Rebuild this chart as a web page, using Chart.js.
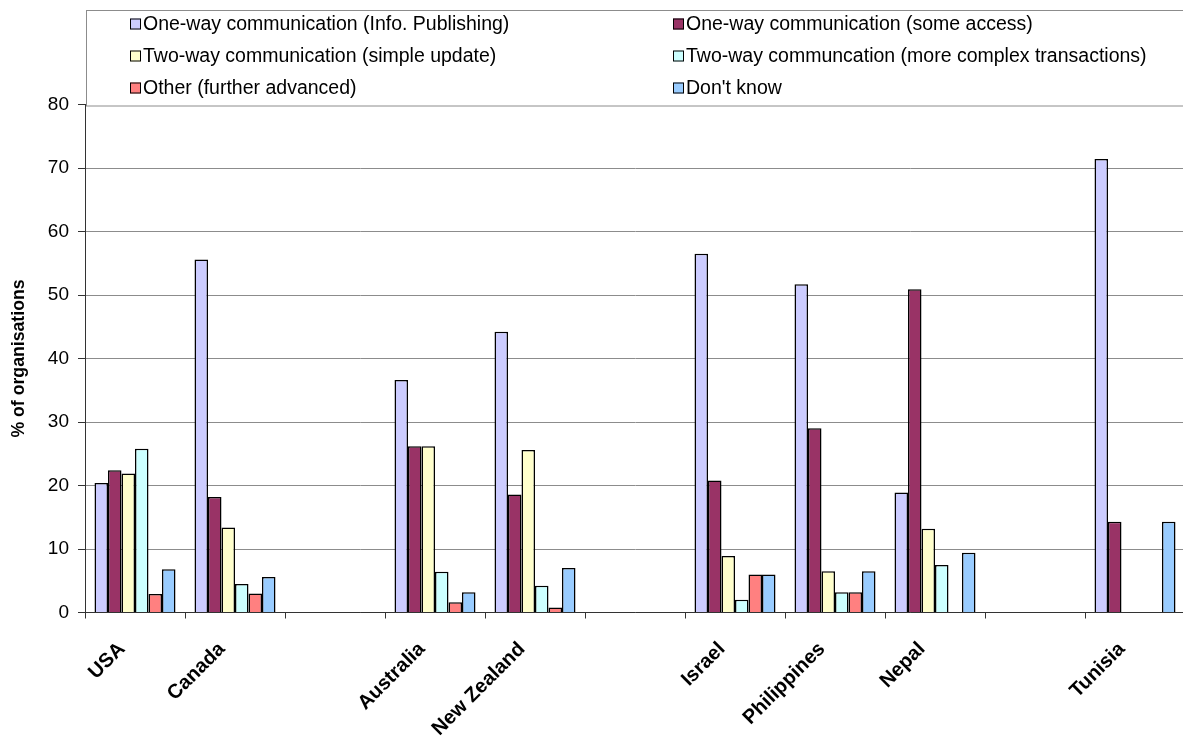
<!DOCTYPE html>
<html><head><meta charset="utf-8">
<script src="https://cdn.jsdelivr.net/npm/chart.js@4.4.0/dist/chart.umd.min.js"></script>
<style>
html,body{margin:0;padding:0;overflow:hidden;background:#fff;width:1183px;height:737px}
#wrap{position:absolute;left:0;top:0;width:1190px;height:737px}
</style></head>
<body><div id="wrap"><canvas id="c"></canvas></div>
<script>
const categories = ['USA','Canada','','Australia','New Zealand','','Israel','Philippines','Nepal','','Tunisia'];
const seriesNames = [
  'One-way communication (Info. Publishing)',
  'One-way communication (some access)',
  'Two-way communication (simple update)',
  'Two-way communcation (more complex transactions)',
  'Other (further advanced)',
  "Don't know"
];
const infoPublishing      = [20.4, 55.6, null, 36.6, 44.2, null, 56.5, 51.7, 18.9, null, 71.4];
const someAccess          = [22.4, 18.2, null, 26.2, 18.6, null, 20.8, 29.0, 50.9, null, 14.3];
const simpleUpdate        = [21.9, 13.4, null, 26.2, 25.6, null,  8.9,  6.5, 13.2, null,  0];
const complexTransactions = [25.8,  4.5, null,  6.4,  4.2, null,  2.0,  3.2,  7.5, null,  0];
const furtherAdvanced     = [ 2.9,  3.0, null,  1.6,  0.8, null,  6.0,  3.2,  0,   null,  0];
const dontKnow            = [ 6.8,  5.6, null,  3.2,  7.0, null,  6.0,  6.5,  9.4, null, 14.3];
const yMin = 0, yMax = 80, yStep = 10;
const colors = ['#CCCCFF','#993366','#FFFFCC','#CCFFFF','#FF8080','#99CCFF'];

const seriesValues = [infoPublishing, someAccess, simpleUpdate, complexTransactions, furtherAdvanced, dontKnow];
const FONT = '"Liberation Sans", Arial, sans-serif';

const boxLegend = {
  id: 'boxLegend',
  afterDraw(chart) {
    const ctx = chart.ctx;
    ctx.save();
    ctx.fillStyle = '#fff';
    ctx.fillRect(86.5, 10.5, 1200, 95.5);
    ctx.strokeStyle = '#8c8c8c';
    ctx.lineWidth = 1;
    ctx.strokeRect(86.5, 10.5, 1200, 95.5);
    ctx.font = '19.5px ' + FONT;
    ctx.textBaseline = 'middle';
    chart.data.datasets.forEach((ds, i) => {
      const col = i % 2, row = Math.floor(i / 2);
      const x = col ? 673 : 130;
      const y = 24.5 + row * 32;
      ctx.fillStyle = ds.backgroundColor;
      ctx.fillRect(x, y - 6, 11, 11);
      ctx.strokeStyle = '#000';
      ctx.strokeRect(x + 0.5, y - 5.5, 10, 10);
      ctx.fillStyle = '#000';
      ctx.fillText(ds.label, x + 13, y);
    });
    ctx.restore();
  }
};

new Chart(document.getElementById('c'), {
  type: 'bar',
  data: {
    labels: categories,
    datasets: seriesValues.map((vals, i) => ({
      label: seriesNames[i],
      data: vals,
      backgroundColor: colors[i],
      borderColor: '#000',
      borderWidth: 1.5,
      categoryPercentage: 0.81,
      barPercentage: 1.0
    }))
  },
  options: {
    responsive: true,
    maintainAspectRatio: false,
    animation: false,
    devicePixelRatio: 1,
    layout: { padding: { top: 104.5, right: 5, left: 0, bottom: 0 } },
    plugins: { legend: { display: false }, tooltip: { enabled: false } },
    scales: {
      x: {
        grid: { display: true, drawOnChartArea: false, drawTicks: true, tickLength: 6, tickColor: '#333', offset: true },
        border: { display: true, color: '#333', width: 1 },
        ticks: {
          autoSkip: false, maxRotation: 45, minRotation: 45,
          color: '#000', padding: 19, labelOffset: -13,
          font: { family: FONT, size: 20, weight: 'bold' }
        },
        afterFit: s => { s.height = 124.5; }
      },
      y: {
        min: yMin, max: yMax,
        ticks: { stepSize: yStep, color: '#000', padding: 9, font: { family: FONT, size: 19 } },
        grid: { color: '#8c8c8c', tickColor: '#333', tickLength: 7 },
        border: { display: true, color: '#333', width: 1 },
        title: { display: true, text: '% of organisations', color: '#000', padding: { top: 8, bottom: 0 },
                 font: { family: FONT, size: 17.7, weight: 'bold' } },
        afterFit: s => { s.width = 85; }
      }
    }
  },
  plugins: [boxLegend]
});
</script>
</body></html>
